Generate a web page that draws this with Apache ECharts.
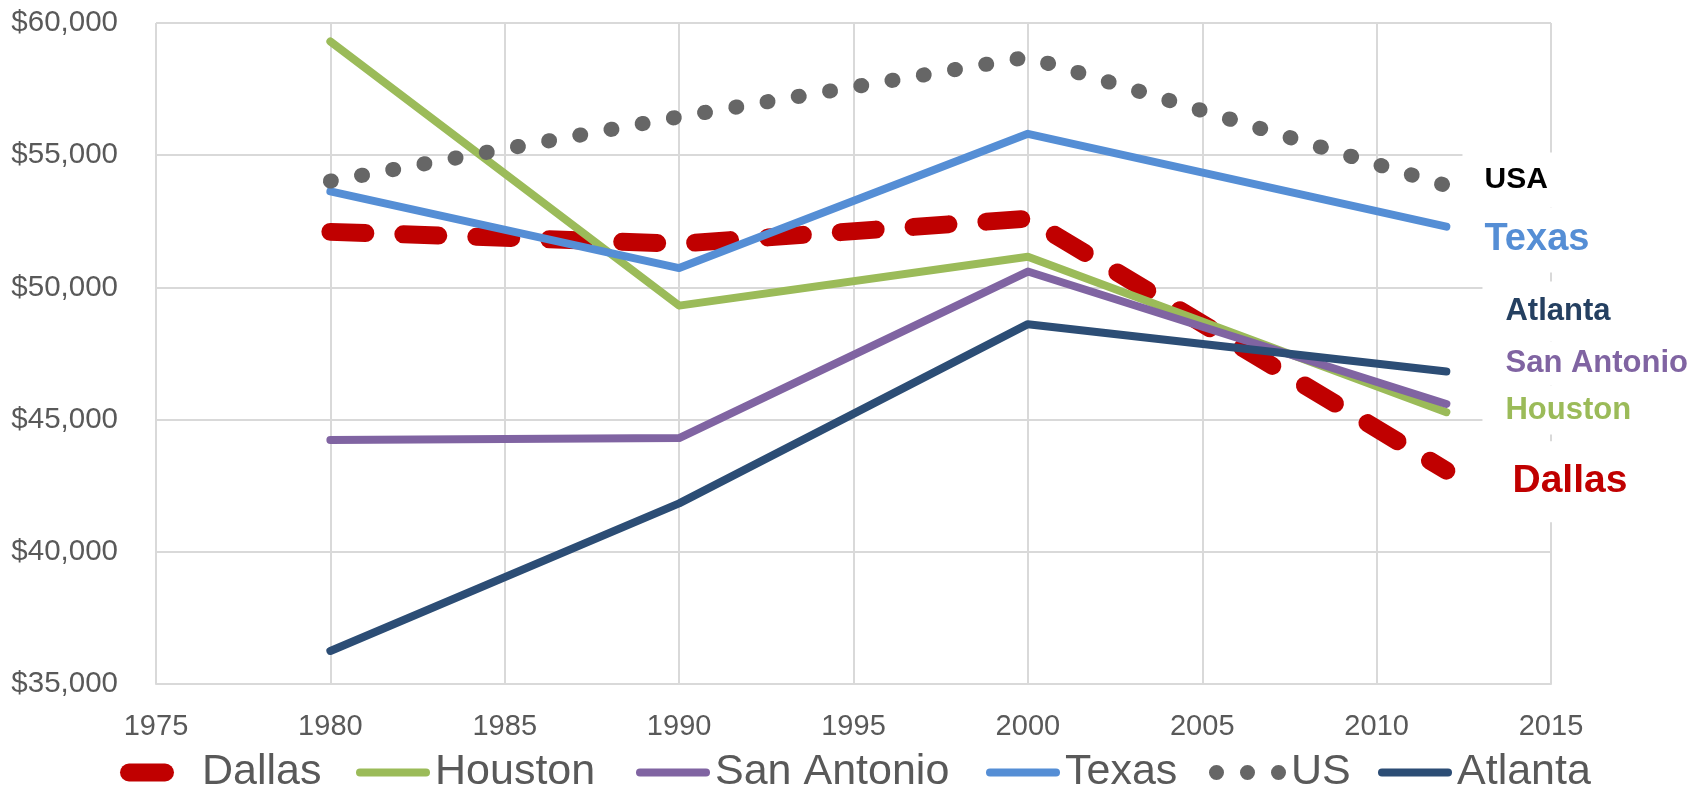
<!DOCTYPE html>
<html>
<head>
<meta charset="utf-8">
<script src="https://cdn.jsdelivr.net/npm/echarts@6/dist/echarts.min.js"></script>
<style>
html,body{margin:0;padding:0;background:#fff;}
#chart{width:1706px;height:789px;}
</style>
</head>
<body>
<div id="chart"></div>
<script>
// ---- data ----
const years = [1980, 1990, 2000, 2012];
const dallas = [52100, 51650, 52600, 43070];
const houston = [59300, 49310, 51160, 45280];
const sanAntonio = [44230, 44300, 50600, 45590];
const texas = [53630, 50730, 55810, 52300];
const us = [54020, 56450, 58710, 53850];
const atlanta = [36250, 41830, 48610, 46820];
const seriesNames = ['Dallas', 'Houston', 'San Antonio', 'Texas', 'US', 'Atlanta'];
const endLabelTexts = ['Dallas', 'Houston', 'San Antonio', 'Texas', 'USA', 'Atlanta'];
const xTicks = {min: 1975, max: 2015, interval: 5};
const yTicks = {min: 35000, max: 60000, interval: 5000};

const pairs = arr => years.map((y, i) => [y, arr[i]]);
const FONT = "'Liberation Sans', Arial, sans-serif";

const colors = {
  Dallas: '#C00000', Houston: '#9BBB59', 'San Antonio': '#8064A2',
  Texas: '#558ED5', US: '#666666', Atlanta: '#2C4D75'
};

function endMark(arr, text, color, fs, pad, dx, dy, w) {
  return {
    symbol: 'rect', symbolSize: 1, silent: true,
    itemStyle: {color: 'rgba(0,0,0,0)'},
    data: [{
      coord: [years[years.length - 1], arr[arr.length - 1]],
      label: {
        show: true, formatter: text, position: [dx, dy],
        align: 'left', verticalAlign: 'middle',
        color: color, fontSize: fs, lineHeight: fs, fontWeight: 'bold', fontFamily: FONT,
        backgroundColor: '#ffffff', padding: pad, width: w
      }
    }]
  };
}

function lineSeries(name, arr, lineStyle, mark) {
  return {
    name: name, type: 'line', data: pairs(arr), symbol: 'none', showSymbol: false,
    color: colors[name], animation: false,
    lineStyle: Object.assign({color: colors[name], cap: 'round', join: 'round'}, lineStyle),
    markPoint: mark
  };
}

const pillPath = 'path://M9,0 L45,0 A9,9 0 0 1 45,18 L9,18 A9,9 0 0 1 9,0 Z';
const linePath = 'path://M4,0 L70,0 A4,4 0 0 1 70,8 L4,8 A4,4 0 0 1 4,0 Z';
const dotsPath = 'path://M0,7.5 A7.5,7.5 0 1 0 15,7.5 A7.5,7.5 0 1 0 0,7.5 Z M31,7.5 A7.5,7.5 0 1 0 46,7.5 A7.5,7.5 0 1 0 31,7.5 Z M62,7.5 A7.5,7.5 0 1 0 77,7.5 A7.5,7.5 0 1 0 62,7.5 Z';

function legend(name, left, icon, w, h, textPad) {
  return {
    left: left, top: 751, padding: 0, itemGap: 0,
    itemWidth: w, itemHeight: h, selectedMode: false,
    textStyle: {fontSize: 43, color: '#595959', fontFamily: FONT, padding: textPad || 0},
    data: [{name: name, icon: icon, itemStyle: {color: colors[name], borderWidth: 0}}]
  };
}

const option = {
  animation: false,
  grid: {left: 156, right: 155, top: 23, bottom: 105, containLabel: false},
  xAxis: {
    type: 'value', min: xTicks.min, max: xTicks.max, interval: xTicks.interval,
    axisLine: {show: true, lineStyle: {color: '#D9D9D9', width: 2}},
    axisTick: {show: false},
    splitLine: {show: true, lineStyle: {color: '#D9D9D9', width: 2}},
    axisLabel: {fontSize: 29, color: '#595959', fontFamily: FONT, margin: 28, formatter: v => String(v)}
  },
  yAxis: {
    type: 'value', min: yTicks.min, max: yTicks.max, interval: yTicks.interval,
    axisLine: {show: false}, axisTick: {show: false},
    splitLine: {show: true, lineStyle: {color: '#D9D9D9', width: 2}},
    axisLabel: {fontSize: 29.5, color: '#595959', fontFamily: FONT, margin: 38,
      formatter: v => '$' + v.toLocaleString('en-US')}
  },
  legend: [
    legend('Dallas', 120, pillPath, 54, 18, [0, 0, 0, 23]),
    legend('Houston', 356, linePath, 74, 8),
    legend('San Antonio', 636, linePath, 74, 8),
    legend('Texas', 986, linePath, 74, 8),
    legend('US', 1209, dotsPath, 77, 15),
    legend('Atlanta', 1378, linePath, 74, 8)
  ],
  series: [
    lineSeries('Dallas', dallas, {width: 18, type: [35, 38]},
      endMark(dallas, endLabelTexts[0], '#C00000', 39, [21, 10, 21, 30], 36.6, 11.5, 120)),
    lineSeries('Houston', houston, {width: 8},
      endMark(houston, endLabelTexts[1], '#9BBB59', 31, [6.5, 10, 11.5, 23], 36.6, -1.7, 190)),
    lineSeries('San Antonio', sanAntonio, {width: 8},
      endMark(sanAntonio, endLabelTexts[2], '#8064A2', 31, [5.5, 10, 7.5, 23], 36.6, -40, 190)),
    lineSeries('Texas', texas, {width: 8},
      endMark(texas, endLabelTexts[3], '#558ED5', 38, [10, 10, 17, 22], 16.6, 13.9, 110)),
    lineSeries('US', us, {width: 15, type: [1, 30.7]},
      endMark(us, endLabelTexts[4], '#000000', 30, [19, 10, 6, 22], 16.6, -5, 100)),
    lineSeries('Atlanta', atlanta, {width: 8},
      endMark(atlanta, endLabelTexts[5], '#254061', 31, [22, 10, 7, 23], 36.6, -59.5, 190))
  ]
};

const chart = echarts.init(document.getElementById('chart'), null, {renderer: 'canvas'});
chart.setOption(option);
</script>
</body>
</html>
